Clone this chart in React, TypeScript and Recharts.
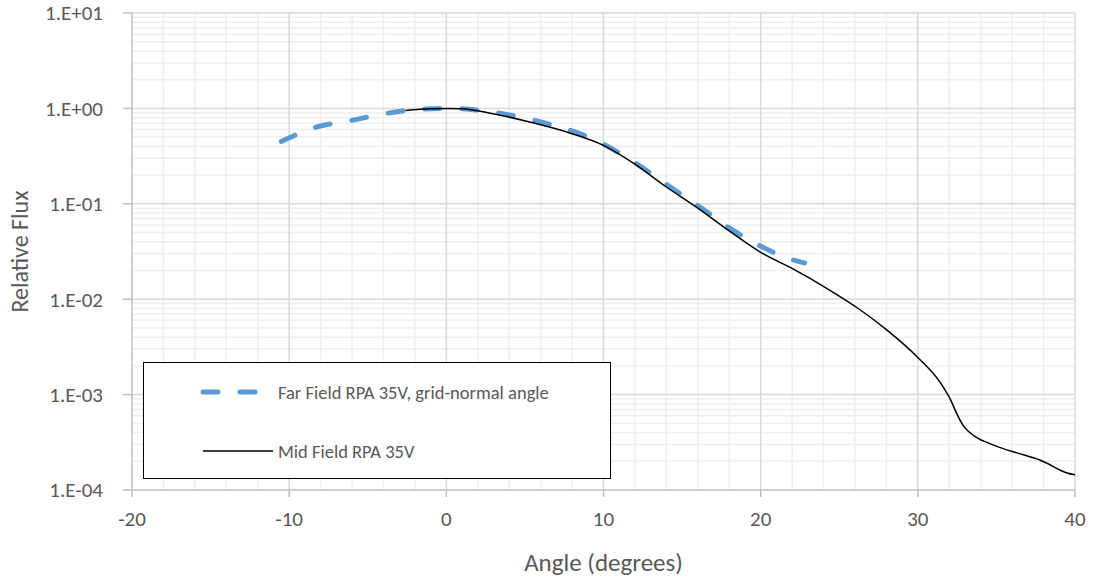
import React from "react";
import { LineChart, Line, XAxis, YAxis, ReferenceLine } from "recharts";

// Far field RPA (blue dashed)
const farAngle = [-10.5, -8.5, -6, -3.75, -1.5, 0, 1, 3, 5, 7, 8, 10, 12, 14, 16, 18, 20, 21, 22, 22.8];
const farFlux = [0.45, 0.62, 0.75, 0.89, 0.98, 1.0, 0.99, 0.91, 0.79, 0.65, 0.58, 0.42, 0.27, 0.16, 0.096, 0.056, 0.036, 0.03, 0.026, 0.024];

// Mid field RPA (black solid)
const midAngle = [-2.6, -1, 0, 1, 2.8, 5.3, 7.9, 10, 12, 14, 16, 18, 20, 22, 24.2, 26.3, 28, 30, 31.4, 32.1, 32.5, 32.9, 33.3, 33.8, 34.5, 35.2, 36.3, 37.8, 39.5, 40];
const midFlux = [0.95, 0.99, 1.0, 0.99, 0.89, 0.72, 0.55, 0.41, 0.26, 0.15, 0.09, 0.052, 0.031, 0.021, 0.013, 0.0078, 0.0048, 0.00245, 0.00136, 0.00087, 0.00062, 0.00047, 0.0004, 0.00035, 0.00031, 0.00028, 0.000245, 0.000205, 0.000151, 0.000144];

const xTicks = [-20, -10, 0, 10, 20, 30, 40];
const yTicks = [1e-4, 1e-3, 1e-2, 1e-1, 1, 10];

const farData = farAngle.map((a, i) => ({ angle: a, flux: farFlux[i] }));
const midData = midAngle.map((a, i) => ({ angle: a, flux: midFlux[i] }));

const minorX: number[] = [];
for (let v = -18; v < 40; v += 2) if (v % 10 !== 0) minorX.push(v);
const minorY: number[] = [];
for (let e = -4; e <= 0; e++) for (let k = 2; k <= 9; k++) minorY.push(k * Math.pow(10, e));

const fmtY = (v: number) => {
  const e = Math.round(Math.log10(v));
  const s = e >= 0 ? "+" : "-";
  return `1.E${s}${String(Math.abs(e)).padStart(2, "0")}`;
};

const FONT = "Carlito, Calibri, 'Open Sans', sans-serif";
const TXT = "#595959";

function LegendBox() {
  return (
    <div
      style={{
        position: "absolute",
        left: 143,
        top: 362,
        width: 466,
        height: 115,
        border: "1.5px solid #000",
        background: "#fff",
        fontFamily: FONT,
        fontSize: 18.5,
        color: TXT,
      }}
    >
      <svg width={140} height={115} style={{ position: "absolute", left: 0, top: 0 }}>
        <line x1={59} y1={29} x2={115} y2={29} stroke="#5b9bd5" strokeWidth={5} strokeDasharray="15 22" strokeLinecap="round" />
        <line x1={59} y1={88} x2={129} y2={88} stroke="#000" strokeWidth={1.5} />
      </svg>
      <div style={{ position: "absolute", left: 134, top: 29, transform: "translateY(-50%)", whiteSpace: "nowrap" }}>
        Far Field RPA 35V, grid-normal angle
      </div>
      <div style={{ position: "absolute", left: 134, top: 88, transform: "translateY(-50%)", whiteSpace: "nowrap" }}>
        Mid Field RPA 35V
      </div>
    </div>
  );
}

export default function App() {
  return (
    <div style={{ position: "absolute", left: 0, top: 0, width: 1094, height: 582, background: "#fff" }}>
      <LineChart width={1094} height={582} margin={{ top: 13, right: 19, left: 0, bottom: 0 }}>
        {minorX.map((v) => (
          <ReferenceLine key={"mx" + v} x={v} stroke="#efefef" strokeWidth={1.5} />
        ))}
        {minorY.map((v) => (
          <ReferenceLine key={"my" + v} y={v} stroke="#efefef" strokeWidth={1.5} />
        ))}
        {xTicks.slice(1).map((v) => (
          <ReferenceLine key={"X" + v} x={v} stroke="#d9d9d9" strokeWidth={1.5} />
        ))}
        {yTicks.slice(1).map((v) => (
          <ReferenceLine key={"Y" + v} y={v} stroke="#d9d9d9" strokeWidth={1.5} />
        ))}
        <XAxis
          type="number"
          dataKey="angle"
          domain={[-20, 40]}
          ticks={xTicks}
          allowDataOverflow
          height={92}
          tick={{ fontSize: 21, fill: TXT, fontFamily: FONT }}
          tickMargin={14}
          tickSize={7}
          axisLine={{ stroke: "#bfbfbf", strokeWidth: 1.5 }}
          tickLine={{ stroke: "#bfbfbf", strokeWidth: 1.5 }}
          label={{ value: "Angle (degrees)", position: "insideBottom", offset: 11, fontSize: 25, fill: TXT, fontFamily: FONT }}
        />
        <YAxis
          type="number"
          scale="log"
          domain={[1e-4, 10]}
          ticks={yTicks}
          allowDataOverflow
          width={132}
          tickFormatter={fmtY}
          tick={{ fontSize: 21, fill: TXT, fontFamily: FONT, dx: -6 }}
          tickMargin={14}
          tickSize={9}
          axisLine={{ stroke: "#bfbfbf", strokeWidth: 1.5 }}
          tickLine={{ stroke: "#bfbfbf", strokeWidth: 1.5 }}
          label={{ value: "Relative Flux", angle: -90, position: "insideLeft", offset: 19, fontSize: 24, fill: TXT, fontFamily: FONT, style: { textAnchor: "middle" } }}
        />
        <Line
          data={farData}
          dataKey="flux"
          type="monotone"
          stroke="#5b9bd5"
          strokeWidth={5}
          strokeDasharray="15 22"
          strokeLinecap="round"
          dot={false}
          isAnimationActive={false}
          name="Far Field RPA 35V, grid-normal angle"
        />
        <Line
          data={midData}
          dataKey="flux"
          type="monotone"
          stroke="#000"
          strokeWidth={1.5}
          dot={false}
          isAnimationActive={false}
          name="Mid Field RPA 35V"
        />
      </LineChart>
      <LegendBox />
    </div>
  );
}
